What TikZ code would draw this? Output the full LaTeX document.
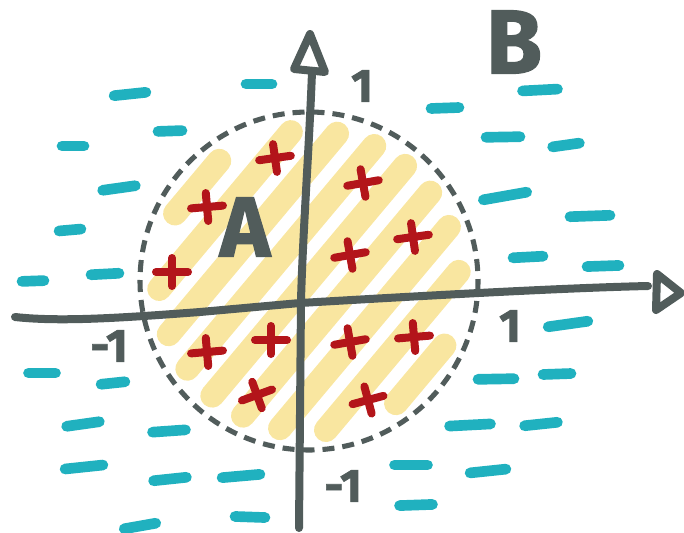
\documentclass[tikz,border=0pt]{standalone}
\usepackage{fontspec}
\setmainfont{Fira Sans}[BoldFeatures={FakeBold=1.5}]
\definecolor{axisgray}{HTML}{515C5B}
\definecolor{plusred}{HTML}{B3151A}
\definecolor{dashcyan}{HTML}{20B1BF}
\definecolor{stripey}{HTML}{F9E6A0}
\tikzset{
  stripe/.style={draw=stripey, line width=18pt, line cap=round},
  plusst/.style={draw=plusred, line width=6pt, line cap=round},
  dashst/.style={draw=dashcyan, line width=8pt, line cap=round},
  axisline/.style={draw=axisgray, line width=6pt, line cap=round, line join=round},
  ringst/.style={draw=axisgray, line width=3.8pt, dash pattern=on 9pt off 6pt},
  lab/.style={text=axisgray, font=\bfseries, inner sep=0pt}
}
\begin{document}
\begin{tikzpicture}[x=0.75pt,y=-0.75pt]
\useasboundingbox (0,0) rectangle (684,532);
% yellow stripes
\foreach \d in {-146,-109.6,-73.2,-36.8,-0.4,36,72.4,108.8,145.2}{
  \pgfmathsetmacro{\h}{100*sqrt(1.5^2-(\d/100)^2)}
  \pgfmathsetmacro{\cx}{309+\d*sin(50)}
  \pgfmathsetmacro{\cy}{281+\d*cos(50)}
  \pgfmathsetmacro{\ax}{\cx-\h*cos(50)}
  \pgfmathsetmacro{\ay}{\cy+\h*sin(50)}
  \pgfmathsetmacro{\bx}{\cx+\h*cos(50)}
  \pgfmathsetmacro{\by}{\cy-\h*sin(50)}
  \draw[stripe] (\ax,\ay) -- (\bx,\by);
}
% red pluses
\foreach \x/\y/\r in {275/158/8,207/207/5,363/183/10,172/272/0,350/255/10,413/237/8,207/352/5,271/340/0,350/342/10,414/337/5,257/395/20,368/400/15}{
  \draw[plusst,shift={(\x,\y)},rotate=\r] (-16,0) -- (16,0) (0,-14) -- (0,14);
}
% cyan dashes
\foreach \x/\y/\l/\a in {130/94/32/6,259/84/26/0,170/131/24/2,73/146/22/0,119/188/33/8,70/230/22/5,33/281/22/2,105/274/28/3,42/373/27/0,113/383/24/6,83/424/33/8,169/431/33/4,84/467/38/6,170/479/33/6,241/476/38/5,250/517/30/-2,140/526/32/10,540/90/35/3,445/108/28/2,503/137/34/1,566/145/27/8,505/196/44/10,590/216/40/2,528/257/30/3,603/266/32/2,568/324/40/8,496/379/36/1,557/374/28/2,470/425/41/3,541/424/33/6,411/465/33/0,488/471/36/6,416/505/33/2}{
  \draw[dashst,shift={(\x,\y)},rotate=\a] (-\l/2,0) -- (\l/2,0);
}
% dashed circle
\draw[ringst] (309,281) circle[radius=169];
% axes
\coordinate (xl) at (15,317);
\coordinate (xr) at (648,286);
\coordinate (yb) at (299,528);
\coordinate (yt) at (312,72);
\draw[axisline] (xl) .. controls (60,322) and (120,318) .. (200,312) -- (300,303) .. controls (420,296) and (560,288) .. (xr);
\draw[axisline] (657,274) -- (681,293) -- (656,310) -- cycle;
\draw[axisline] (yb) -- (301,300) .. controls (303,230) and (309,150) .. (yt);
\draw[axisline] (310,34) -- (294,69) -- (325,72) -- cycle;
% labels
\node[lab, font=\bfseries\fontsize{68}{68}\selectfont] (labB) at (514,42) {B};
\node[lab, font=\bfseries\fontsize{64}{64}\selectfont] (labA) at (245,227) {A};
\node[lab, font=\bfseries\fontsize{35}{35}\selectfont] (ytop) at (362,86) {1};
\node[lab, font=\bfseries\fontsize{35}{35}\selectfont] (xleft) at (109,346) {-1};
\node[lab, font=\bfseries\fontsize{35}{35}\selectfont] (xright) at (510,326) {1};
\node[lab, font=\bfseries\fontsize{35}{35}\selectfont] (ybot) at (343,486) {-1};
\end{tikzpicture}
\end{document}
